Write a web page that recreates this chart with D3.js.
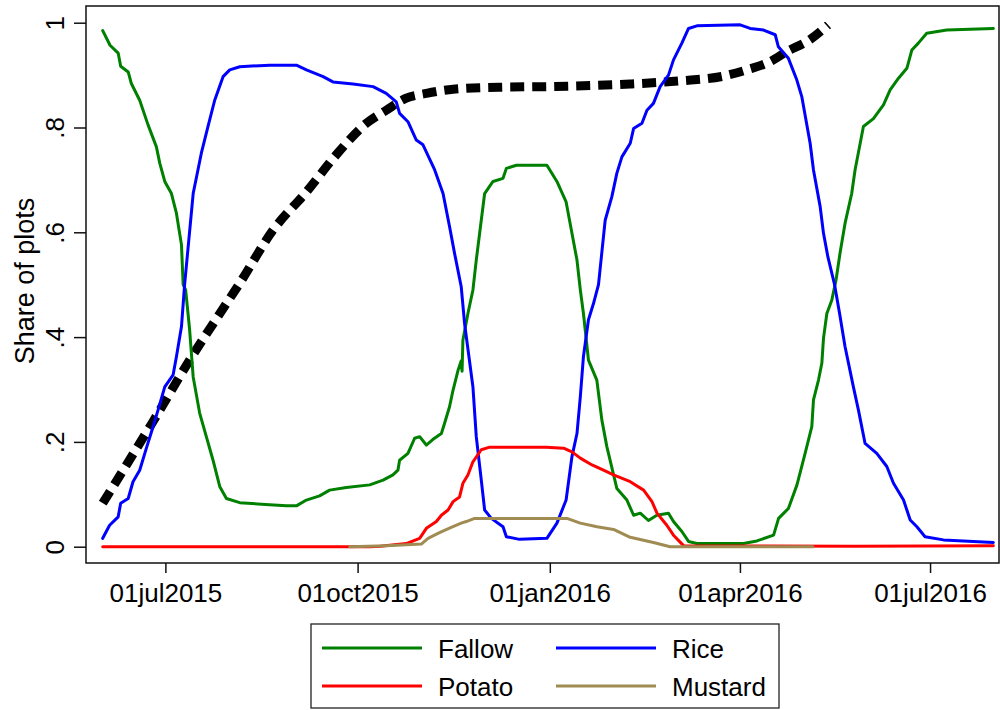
<!DOCTYPE html>
<html>
<head>
<meta charset="utf-8">
<script src="https://cdn.jsdelivr.net/npm/d3@7"></script>
<style>
  html, body { margin: 0; padding: 0; background: #fff; }
  svg { display: block; font-family: "Liberation Sans", Arial, Helvetica, sans-serif; }
</style>
</head>
<body>
<svg id="chart" width="1000" height="710"></svg>
<script>
// ---- Data (x = days since 2015-06-01, y = share of plots) ----
const startDate = "2015-06-01";
const seriesNames = ["Fallow", "Rice", "Potato", "Mustard"];

const fallowDays = [0,3.5,7.4,8.6,12.2,13.7,17.7,21.7,25.7,27.3,29.7,32.9,35.3,37.7,38.5,39.7,41.6,43.3,46.4,49.6,52.8,56,59.2,65.6,79.9,87.9,92.7,97.5,103.8,108.6,116.6,127.8,134.2,138.9,141.3,142.1,146.1,149.3,151.7,154.9,158.1,162.1,163.6,166,167.7,170.1,171.6,172.0,172.4,174.8,177.2,178.8,182.8,186.8,191.6,193.2,198,212.6,217.4,221.8,224.6,227,228.6,230.1,232.5,236.5,238.9,241.3,246.1,250.9,254.1,257.3,261.2,265.2,270.8,273.2,277.2,280.4,284.4,306.7,313.1,321.1,323.5,328.2,332.3,336.2,339.4,340.2,342.6,344.2,345,346.6,349,351,352.9,355.3,358.5,360.1,364.1,368.9,373.7,376.9,380.9,384.9,387.3,390.4,394.4,404,426.3];
const fallowVals = [0.985,0.957,0.942,0.917,0.906,0.884,0.852,0.805,0.763,0.732,0.697,0.674,0.636,0.576,0.5,0.49,0.414,0.324,0.255,0.21,0.165,0.115,0.092,0.084,0.080,0.078,0.078,0.089,0.097,0.108,0.113,0.118,0.127,0.137,0.146,0.165,0.178,0.207,0.21,0.194,0.205,0.216,0.235,0.267,0.299,0.337,0.355,0.335,0.394,0.445,0.49,0.547,0.674,0.697,0.703,0.722,0.728,0.728,0.697,0.658,0.598,0.547,0.49,0.445,0.356,0.318,0.242,0.191,0.111,0.089,0.060,0.064,0.050,0.060,0.064,0.048,0.029,0.010,0.006,0.006,0.011,0.022,0.054,0.073,0.118,0.178,0.229,0.28,0.318,0.35,0.398,0.445,0.471,0.509,0.56,0.617,0.674,0.719,0.802,0.817,0.843,0.872,0.894,0.913,0.948,0.961,0.98,0.986,0.989];

const riceDays = [0,3.3,7.4,8.6,12.2,14.5,17.7,20.9,24.1,26.5,29.7,33.7,35.3,37.7,39.2,43.3,47.2,50.4,53.6,57.6,60.8,65.6,79.9,92.7,97.5,105.5,110.2,119.8,129.4,135.7,140.5,142.1,146.1,150.1,153.3,158.9,162.9,166,168.4,171.6,173.2,177.2,178.8,181.2,182.8,186,191.6,193.2,199.5,212.6,217.4,221.8,224.6,227,228.6,230.1,232.5,234.9,237.3,240.5,243.7,246.1,248.5,252.5,254.1,258.1,260.5,263.6,266.8,270.8,273.2,277.2,280.4,284.4,305.1,309.9,316.3,321.9,323.4,328.2,332.2,334.6,338.6,340.2,343.4,345,347.1,350.3,352.7,355.3,359.3,361.7,364.9,370.5,375.3,378.5,383.3,386.5,389.7,393.6,402.4,426.3];
const riceVals = [0.016,0.041,0.057,0.083,0.092,0.124,0.146,0.188,0.229,0.261,0.305,0.328,0.363,0.42,0.50,0.674,0.751,0.802,0.852,0.897,0.91,0.916,0.919,0.919,0.91,0.897,0.887,0.883,0.878,0.865,0.849,0.827,0.811,0.776,0.767,0.719,0.674,0.611,0.56,0.496,0.426,0.305,0.21,0.127,0.07,0.054,0.038,0.019,0.014,0.016,0.045,0.089,0.172,0.216,0.286,0.363,0.433,0.464,0.5,0.623,0.668,0.713,0.744,0.77,0.798,0.808,0.833,0.846,0.878,0.9,0.929,0.961,0.989,0.994,0.996,0.989,0.986,0.977,0.954,0.932,0.891,0.859,0.77,0.719,0.649,0.598,0.553,0.50,0.445,0.382,0.305,0.261,0.197,0.178,0.153,0.121,0.089,0.051,0.038,0.019,0.013,0.008];

const potatoDays = [0,128,132.9,145.3,151.7,154.9,159.7,162.1,165.3,167.7,170.8,172.4,174.8,177.2,181.2,185.2,212.3,220.6,224.6,228.6,234.2,239.7,244.5,252.5,258.9,262.9,265.3,270,273.2,278,360,426.3];
const potatoVals = [0,0,0.001,0.006,0.016,0.035,0.048,0.06,0.07,0.086,0.095,0.121,0.137,0.162,0.185,0.19,0.19,0.188,0.181,0.169,0.156,0.146,0.137,0.124,0.108,0.086,0.064,0.041,0.022,0.002,0.001,0.002];

const mustardDays = [118.2,135.7,152.5,155.7,161.2,166.8,171.6,174,178,222.2,228.6,236.6,244.5,252.5,263.6,271.6,339.9];
const mustardVals = [0,0.002,0.005,0.016,0.027,0.037,0.045,0.048,0.054,0.054,0.045,0.038,0.033,0.018,0.008,0,0];

const surveyDays = [0,24.1,41.6,59.2,65.6,81.5,97.5,111.8,126.2,135.7,145.3,154.9,167.7,191.6,212.3,252.5,276.4,297.1,308.3,319.5,327.5,338.6,347.2];
const surveyVals = [0.083,0.239,0.356,0.464,0.503,0.604,0.677,0.748,0.808,0.833,0.856,0.865,0.873,0.877,0.878,0.883,0.889,0.898,0.91,0.926,0.945,0.968,0.996];

const xTickDates = ["2015-07-01","2015-10-01","2016-01-01","2016-04-01","2016-07-01"];
const xTickLabels = ["01jul2015","01oct2015","01jan2016","01apr2016","01jul2016"];
const yTickValues = [0, 0.2, 0.4, 0.6, 0.8, 1];
const yTickLabels = ["0", ".2", ".4", ".6", ".8", "1"];
const yTitle = "Share of plots";

// ---- Build ----
(function () {
const parse = d3.utcParse("%Y-%m-%d");
const t0 = parse(startDate).getTime();
const toPts = (days, vals) => days.map((d, i) => ({ x: new Date(t0 + d * 864e5), y: vals[i] }));

const svg = d3.select("#chart");
const pl = 86, pr = 999, pt = 6, pb = 563;
const fs = 26;

const x = d3.scaleUtc()
  .domain([Date.UTC(2015, 4, 24), Date.UTC(2016, 7, 3)])
  .range([pl, pr]);
const y = d3.scaleLinear().domain([0, 1]).range([546.7, 22.7]);

const line = d3.line().x(d => x(d.x)).y(d => y(d.y));
const smooth = d3.line().x(d => x(d.x)).y(d => y(d.y)).curve(d3.curveMonotoneX);

const colors = { Fallow: "#008000", Rice: "#0000ff", Potato: "#ff0000", Mustard: "#a08b52" };

const g = svg.append("g");

g.append("path")
  .attr("d", smooth(toPts(surveyDays, surveyVals)))
  .attr("fill", "none").attr("stroke", "#000").attr("stroke-width", 9)
  .attr("stroke-dasharray", "14,8");

const series = [
  ["Fallow", fallowDays, fallowVals],
  ["Rice", riceDays, riceVals],
  ["Potato", potatoDays, potatoVals],
  ["Mustard", mustardDays, mustardVals]
];
series.forEach(([name, d, v]) => {
  g.append("path")
    .attr("d", line(toPts(d, v)))
    .attr("fill", "none").attr("stroke", colors[name])
    .attr("stroke-width", 3).attr("stroke-linejoin", "round").attr("stroke-linecap", "round");
});

svg.append("rect")
  .attr("x", pl).attr("y", pt).attr("width", pr - pl).attr("height", pb - pt)
  .attr("fill", "none").attr("stroke", "#111").attr("stroke-width", 1.5);

const yAxis = d3.axisLeft(y).tickValues(yTickValues)
  .tickFormat((d, i) => yTickLabels[i]).tickSize(12).tickPadding(0);
const ya = svg.append("g").attr("transform", `translate(${pl},0)`).call(yAxis);
ya.select(".domain").remove();
ya.selectAll(".tick line").attr("stroke", "#111").attr("stroke-width", 1.5);
ya.selectAll(".tick text")
  .attr("x", 0).attr("y", 0).attr("dy", 0)
  .attr("transform", "translate(-22.5,0) rotate(-90)")
  .attr("text-anchor", "middle")
  .attr("font-size", fs).attr("fill", "#000");

const xAxis = d3.axisBottom(x).tickValues(xTickDates.map(parse))
  .tickFormat((d, i) => xTickLabels[i]).tickSize(10).tickPadding(0);
const xa = svg.append("g").attr("transform", `translate(0,${pb})`).call(xAxis);
xa.select(".domain").remove();
xa.selectAll(".tick line").attr("stroke", "#111").attr("stroke-width", 1.5);
xa.selectAll(".tick text").attr("y", 39).attr("dy", 0)
  .attr("font-size", fs).attr("fill", "#000");

svg.append("text")
  .attr("transform", "translate(34,281) rotate(-90)")
  .attr("text-anchor", "middle").attr("font-size", 27).attr("fill", "#000")
  .text(yTitle);

const lg = svg.append("g");
lg.append("rect").attr("x", 311).attr("y", 624).attr("width", 468).attr("height", 84)
  .attr("fill", "#fff").attr("stroke", "#222").attr("stroke-width", 1.3);
const legendPos = [
  { name: "Fallow", lx: 322, ly: 648 },
  { name: "Rice", lx: 556, ly: 648 },
  { name: "Potato", lx: 322, ly: 686 },
  { name: "Mustard", lx: 556, ly: 686 }
];
legendPos.forEach(p => {
  const name = seriesNames[seriesNames.indexOf(p.name)];
  lg.append("line").attr("x1", p.lx).attr("x2", p.lx + 100).attr("y1", p.ly).attr("y2", p.ly)
    .attr("stroke", colors[name]).attr("stroke-width", 3);
  lg.append("text").attr("x", p.lx + 116).attr("y", p.ly + 10)
    .attr("font-size", fs).attr("fill", "#000").text(name);
});
})();
</script>
</body>
</html>
